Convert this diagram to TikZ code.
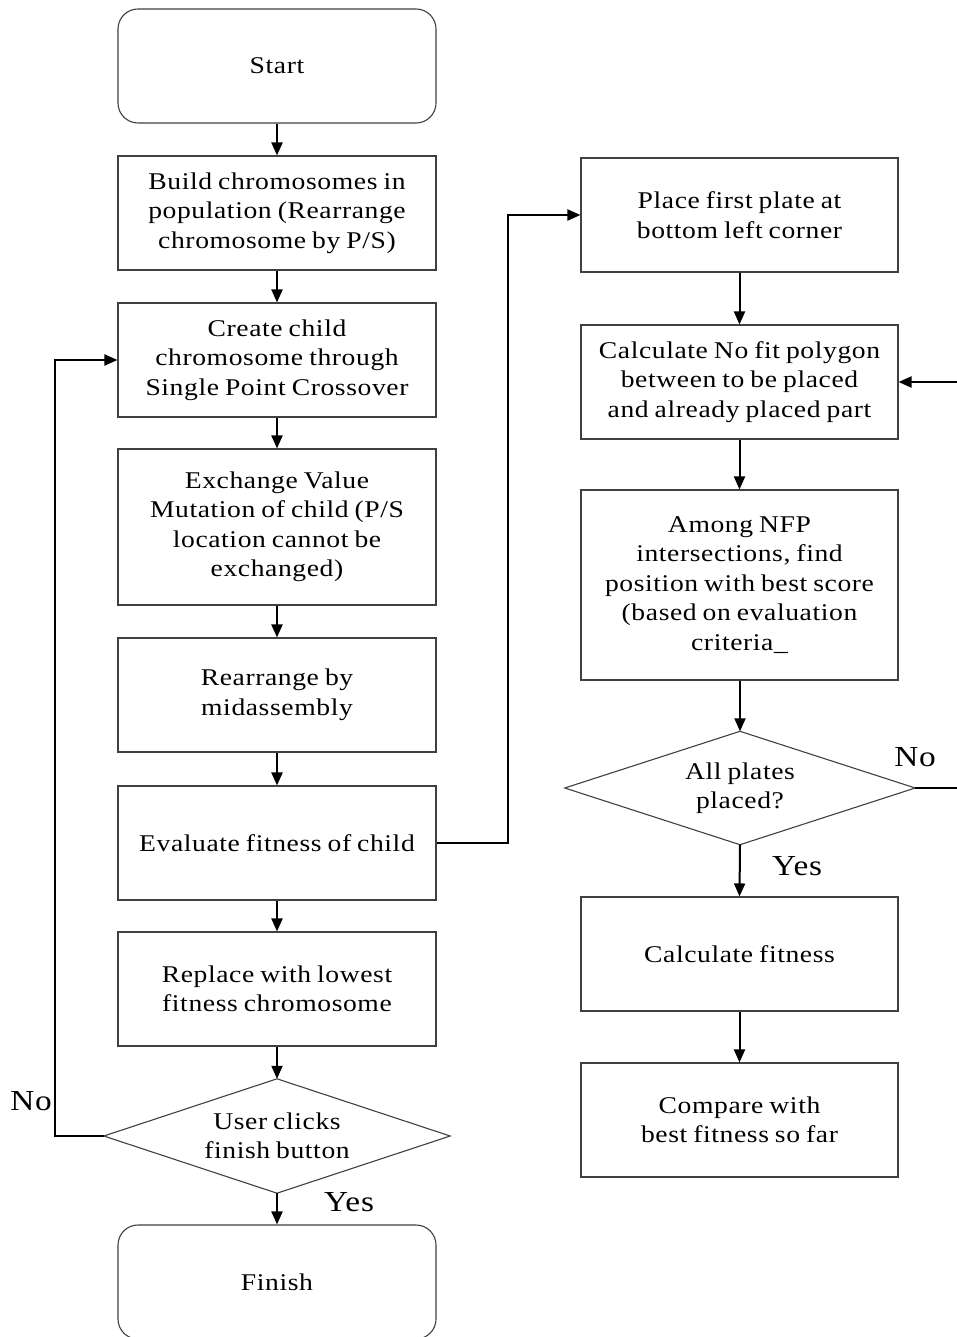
\documentclass[tikz,border=0pt]{standalone}
\usepackage{fontspec}
\setmainfont{Liberation Serif}[FakeStretch=1.15,LetterSpace=2.5,WordSpace=0.8]
\usetikzlibrary{arrows.meta}
\begin{document}
\begin{tikzpicture}[x=1pt,y=-1pt,
  txt/.style={align=center, inner sep=0pt, font=\fontsize{24}{29.5}\selectfont},
  box/.style={txt, draw=black!75, line width=1.1pt, minimum width=318pt, minimum height=114pt},
  term/.style={box, rounded corners=20pt},
  dec/.style={txt, minimum width=346pt, minimum height=114pt},
  flow/.style={line width=2pt, -{Triangle[length=13pt,width=11pt]}},
  lbl/.style={inner sep=0pt, font=\fontsize{29}{30}\selectfont}
]
\useasboundingbox (0,0) rectangle (957,1337);

% main loop (left column)
\node[term] (start) at (277,66) {Start};
\node[box] (build) at (277,213) {Build chromosomes in\\population (Rearrange\\chromosome by P/S)};
\node[box] (create) at (277,360) {Create child\\chromosome through\\Single Point Crossover};
\node[box, minimum height=156pt] (mutate) at (277,527) {Exchange Value\\Mutation of child (P/S\\location cannot be\\exchanged)};
\node[box] (rearr) at (277,695) {Rearrange by\\midassembly};
\node[box] (eval) at (277,843) {Evaluate fitness of child};
\node[box] (repl) at (277,989) {Replace with lowest\\fitness chromosome};
\node[dec] (user) at (277,1136) {User clicks\\finish button};
\draw[black!75, line width=1.1pt] (user.west) -- (user.north) -- (user.east) -- (user.south) -- cycle;
\node[term] (finish) at (277,1282) {Finish};

% fitness evaluation (right column)
\node[box, minimum width=317pt] (place) at (739.5,215) {Place first plate at\\bottom left corner};
\node[box, minimum width=317pt] (nfp) at (739.5,382) {Calculate No fit polygon\\between to be placed\\and already placed part};
\node[box, minimum width=317pt, minimum height=190pt] (among) at (739.5,585) {Among NFP\\intersections, find\\position with best score\\(based on evaluation\\criteria\_};
\node[dec, minimum width=350pt, minimum height=113pt] (all) at (740,788) {All plates\\placed?};
\draw[black!75, line width=1.1pt] (all.west) -- (all.north) -- (all.east) -- (all.south) -- cycle;
\node[box, minimum width=317pt] (calc) at (739.5,954) {Calculate fitness};
\node[box, minimum width=317pt] (comp) at (739.5,1120) {Compare with\\best fitness so far};

% straight connectors
\draw[flow] (start.south) -- (build.north);
\draw[flow] (build.south) -- (create.north);
\draw[flow] (create.south) -- (mutate.north);
\draw[flow] (mutate.south) -- (rearr.north);
\draw[flow] (rearr.south) -- (eval.north);
\draw[flow] (eval.south) -- (repl.north);
\draw[flow] (repl.south) -- (user.north);
\draw[flow] (user.south) -- (finish.north);
\draw[flow] (place.south) -- (nfp.north);
\draw[flow] (nfp.south) -- (among.north);
\draw[flow] (among.south -| all.north) -- (all.north);
\draw[flow] (all.south) -- (calc.north);
\draw[flow] (calc.south) -- (comp.north);

% bent connectors
\coordinate (lback) at (55,1136);
\coordinate (jump) at (508,843);
\coordinate (rback) at (964,788);
\draw[flow] (user.west) -- (lback) |- (create.west);
\draw[flow] (eval.east) -- (jump) |- (place.west);
\draw[flow] (all.east) -- (rback) |- (nfp.east);

% branch labels
\node[lbl] (n1) at (31,1101) {No};
\node[lbl] (y1) at (349,1202) {Yes};
\node[lbl] (n2) at (915,757) {No};
\node[lbl] (y2) at (797,866) {Yes};
\end{tikzpicture}
\end{document}
